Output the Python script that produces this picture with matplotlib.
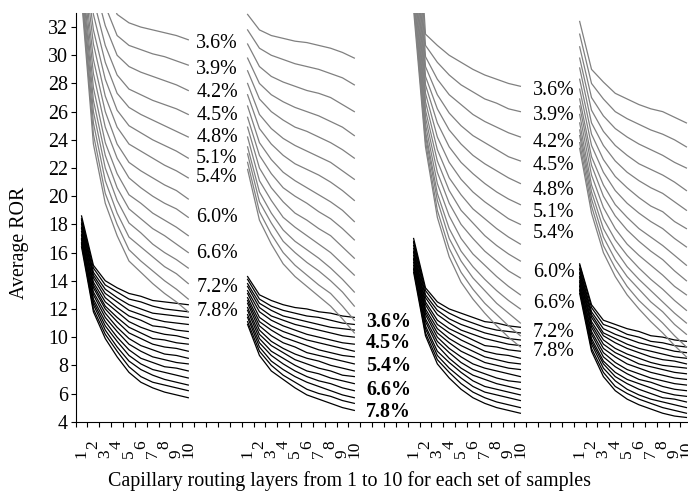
import matplotlib.pyplot as plt

plt.rcParams['font.family'] = ['Liberation Serif', 'DejaVu Serif']
plt.rcParams['font.size'] = 14.4

# capillary routing layers, 4 sets of samples, each on 10 categories + 4 empty ones
layers = list(range(1, 11))
group_starts = [0, 14, 28, 42]
n_categories = 52

# grey series (upper bundle), one row per loss rate 3.6% .. 7.8%
gray_1 = [
    [42.0, 38.0, 35.0, 32.9, 32.3, 32.0, 31.8, 31.6, 31.4, 31.1],
    [41.2, 36.7, 33.5, 31.4, 30.7, 30.4, 30.1, 29.9, 29.6, 29.3],
    [40.5, 35.3, 32.1, 30.0, 29.2, 28.8, 28.5, 28.2, 27.9, 27.5],
    [39.8, 34.0, 30.7, 28.6, 27.6, 27.2, 26.8, 26.5, 26.2, 25.8],
    [39.1, 32.9, 29.5, 27.3, 26.3, 25.8, 25.4, 25.0, 24.6, 24.2],
    [38.5, 31.8, 28.3, 26.1, 25.0, 24.5, 24.0, 23.6, 23.2, 22.7],
    [37.9, 30.8, 27.1, 24.9, 23.7, 23.2, 22.7, 22.2, 21.8, 21.3],
    [37.3, 29.7, 26.0, 23.7, 22.4, 21.8, 21.3, 20.8, 20.4, 19.8],
    [36.8, 28.7, 24.9, 22.7, 21.3, 20.6, 20.0, 19.5, 19.1, 18.5],
    [36.2, 27.7, 23.8, 21.6, 20.1, 19.5, 18.8, 18.3, 17.8, 17.2],
    [35.8, 26.8, 22.9, 20.6, 19.1, 18.4, 17.7, 17.2, 16.6, 16.0],
    [35.3, 26.0, 22.0, 19.7, 18.1, 17.4, 16.6, 16.0, 15.5, 14.9],
    [34.8, 25.2, 21.1, 18.8, 17.1, 16.4, 15.7, 15.0, 14.5, 13.8],
    [34.4, 24.4, 20.2, 18.0, 16.2, 15.4, 14.7, 14.0, 13.4, 12.7],
    [34.0, 23.7, 19.5, 17.2, 15.4, 14.6, 13.8, 13.1, 12.5, 11.8],
]
gray_2 = [
    [32.9, 31.8, 31.4, 31.2, 31.0, 30.9, 30.7, 30.5, 30.2, 29.8],
    [31.8, 30.5, 30.0, 29.7, 29.4, 29.2, 29.0, 28.7, 28.4, 27.9],
    [30.8, 29.2, 28.5, 28.1, 27.8, 27.5, 27.3, 27.0, 26.5, 26.0],
    [29.8, 28.0, 27.2, 26.7, 26.3, 26.0, 25.7, 25.3, 24.9, 24.3],
    [28.9, 26.9, 26.0, 25.4, 24.9, 24.6, 24.2, 23.8, 23.3, 22.7],
    [28.0, 25.8, 24.8, 24.1, 23.6, 23.2, 22.8, 22.4, 21.8, 21.2],
    [27.2, 24.8, 23.7, 22.9, 22.3, 21.9, 21.5, 21.0, 20.4, 19.7],
    [26.4, 23.8, 22.6, 21.7, 21.1, 20.6, 20.1, 19.6, 19.0, 18.2],
    [25.6, 22.9, 21.6, 20.6, 20.0, 19.5, 18.9, 18.4, 17.7, 16.9],
    [24.9, 22.0, 20.6, 19.6, 18.8, 18.3, 17.7, 17.2, 16.4, 15.6],
    [24.2, 21.1, 19.7, 18.5, 17.8, 17.2, 16.6, 16.0, 15.2, 14.4],
    [23.5, 20.3, 18.8, 17.6, 16.8, 16.2, 15.6, 14.9, 14.1, 13.2],
    [23.0, 19.6, 18.1, 16.8, 16.0, 15.3, 14.7, 14.0, 13.2, 12.2],
    [22.4, 18.9, 17.3, 16.0, 15.1, 14.4, 13.7, 13.1, 12.2, 11.2],
    [21.9, 18.3, 16.6, 15.2, 14.3, 13.6, 12.9, 12.2, 11.3, 10.3],
]
gray_3 = [
    [45.0, 31.5, 30.7, 30.0, 29.5, 29.0, 28.6, 28.3, 28.0, 27.8],
    [43.8, 30.7, 29.5, 28.6, 27.9, 27.4, 26.9, 26.6, 26.2, 26.0],
    [42.7, 29.9, 28.3, 27.2, 26.5, 25.8, 25.3, 24.9, 24.5, 24.2],
    [41.6, 29.2, 27.2, 25.9, 25.0, 24.3, 23.8, 23.3, 22.8, 22.5],
    [40.6, 28.5, 26.2, 24.7, 23.7, 22.9, 22.3, 21.8, 21.3, 20.9],
    [39.6, 27.9, 25.2, 23.5, 22.4, 21.6, 20.9, 20.3, 19.8, 19.4],
    [38.7, 27.3, 24.2, 22.4, 21.2, 20.3, 19.6, 19.0, 18.4, 18.0],
    [37.9, 26.7, 23.3, 21.3, 20.1, 19.1, 18.4, 17.7, 17.1, 16.6],
    [37.1, 26.1, 22.5, 20.4, 19.0, 18.1, 17.2, 16.5, 15.9, 15.4],
    [36.3, 25.6, 21.7, 19.5, 18.0, 17.0, 16.1, 15.4, 14.7, 14.2],
    [35.6, 25.1, 20.9, 18.6, 17.0, 15.9, 15.1, 14.3, 13.6, 13.0],
    [34.9, 24.6, 20.2, 17.7, 16.1, 15.0, 14.1, 13.3, 12.6, 12.0],
    [34.3, 24.3, 19.7, 17.0, 15.4, 14.2, 13.3, 12.4, 11.7, 11.0],
    [33.7, 23.9, 19.0, 16.3, 14.6, 13.4, 12.4, 11.6, 10.8, 10.1],
    [33.2, 23.5, 18.5, 15.7, 13.9, 12.7, 11.7, 10.8, 10.0, 9.3],
]
gray_4 = [
    [32.4, 29.0, 28.1, 27.3, 26.9, 26.5, 26.2, 26.0, 25.6, 25.2],
    [31.5, 28.0, 26.9, 26.0, 25.5, 25.1, 24.7, 24.4, 24.0, 23.5],
    [30.6, 27.0, 25.7, 24.8, 24.2, 23.7, 23.3, 22.9, 22.4, 22.0],
    [29.8, 26.1, 24.6, 23.6, 22.9, 22.3, 21.9, 21.5, 21.0, 20.4],
    [29.1, 25.2, 23.6, 22.5, 21.7, 21.1, 20.6, 20.2, 19.6, 19.0],
    [28.3, 24.4, 22.6, 21.4, 20.6, 19.9, 19.3, 18.9, 18.2, 17.7],
    [27.6, 23.6, 21.7, 20.4, 19.5, 18.8, 18.2, 17.7, 17.0, 16.4],
    [26.9, 22.8, 20.8, 19.4, 18.5, 17.7, 17.1, 16.5, 15.8, 15.1],
    [26.4, 22.2, 20.0, 18.6, 17.6, 16.8, 16.1, 15.5, 14.7, 14.0],
    [25.8, 21.5, 19.2, 17.7, 16.6, 15.8, 15.1, 14.4, 13.6, 13.0],
    [25.2, 20.8, 18.4, 16.9, 15.8, 14.9, 14.1, 13.4, 12.6, 11.9],
    [24.7, 20.3, 17.7, 16.2, 15.0, 14.1, 13.3, 12.5, 11.7, 11.0],
    [24.3, 19.8, 17.1, 15.5, 14.3, 13.4, 12.5, 11.8, 10.9, 10.2],
    [23.8, 19.3, 16.5, 14.9, 13.6, 12.6, 11.8, 11.0, 10.1, 9.3],
    [23.4, 18.8, 16.0, 14.3, 13.0, 12.0, 11.1, 10.3, 9.4, 8.6],
]

# black series (lower bundle)
black_1 = [
    [18.6, 15.1, 14.0, 13.5, 13.1, 12.9, 12.6, 12.5, 12.4, 12.3],
    [18.4, 14.9, 13.7, 13.2, 12.7, 12.5, 12.2, 12.0, 11.9, 11.8],
    [18.3, 14.6, 13.4, 12.8, 12.3, 12.0, 11.7, 11.6, 11.5, 11.4],
    [18.1, 14.4, 13.1, 12.5, 11.9, 11.6, 11.3, 11.1, 11.0, 10.9],
    [18.0, 14.2, 12.8, 12.1, 11.5, 11.2, 10.8, 10.7, 10.5, 10.4],
    [17.8, 13.9, 12.5, 11.8, 11.1, 10.7, 10.4, 10.2, 10.1, 9.9],
    [17.7, 13.7, 12.2, 11.4, 10.7, 10.3, 9.9, 9.8, 9.6, 9.5],
    [17.5, 13.5, 12.0, 11.1, 10.3, 9.9, 9.5, 9.3, 9.2, 9.0],
    [17.3, 13.2, 11.7, 10.7, 9.9, 9.4, 9.1, 8.8, 8.7, 8.5],
    [17.2, 13.0, 11.4, 10.4, 9.5, 9.0, 8.6, 8.4, 8.2, 8.1],
    [17.0, 12.7, 11.1, 10.0, 9.1, 8.5, 8.2, 7.9, 7.8, 7.6],
    [16.9, 12.5, 10.8, 9.7, 8.7, 8.1, 7.7, 7.5, 7.3, 7.1],
    [16.7, 12.3, 10.5, 9.3, 8.3, 7.7, 7.3, 7.0, 6.8, 6.6],
    [16.6, 12.0, 10.2, 9.0, 7.9, 7.2, 6.8, 6.6, 6.4, 6.2],
    [16.4, 11.8, 9.9, 8.6, 7.5, 6.8, 6.4, 6.1, 5.9, 5.7],
]
black_2 = [
    [14.3, 13.0, 12.6, 12.3, 12.1, 12.0, 11.8, 11.7, 11.5, 11.4],
    [14.1, 12.7, 12.2, 11.9, 11.7, 11.5, 11.4, 11.2, 11.0, 10.9],
    [13.8, 12.4, 11.9, 11.5, 11.3, 11.1, 10.9, 10.7, 10.6, 10.5],
    [13.6, 12.1, 11.5, 11.2, 10.9, 10.7, 10.5, 10.3, 10.1, 10.0],
    [13.3, 11.8, 11.2, 10.8, 10.5, 10.2, 10.0, 9.8, 9.6, 9.5],
    [13.1, 11.4, 10.8, 10.4, 10.1, 9.8, 9.6, 9.4, 9.2, 9.0],
    [12.8, 11.1, 10.5, 10.0, 9.7, 9.4, 9.1, 8.9, 8.7, 8.6],
    [12.6, 10.8, 10.1, 9.6, 9.3, 8.9, 8.7, 8.5, 8.3, 8.1],
    [12.4, 10.5, 9.7, 9.2, 8.8, 8.5, 8.3, 8.0, 7.8, 7.6],
    [12.1, 10.2, 9.4, 8.9, 8.4, 8.1, 7.8, 7.6, 7.3, 7.2],
    [11.9, 9.9, 9.0, 8.5, 8.0, 7.6, 7.4, 7.1, 6.9, 6.7],
    [11.6, 9.6, 8.7, 8.1, 7.6, 7.2, 6.9, 6.7, 6.4, 6.2],
    [11.4, 9.3, 8.3, 7.7, 7.2, 6.8, 6.5, 6.2, 5.9, 5.7],
    [11.1, 9.0, 8.0, 7.3, 6.8, 6.3, 6.0, 5.8, 5.5, 5.3],
    [10.9, 8.7, 7.6, 7.0, 6.4, 5.9, 5.6, 5.3, 5.0, 4.8],
]
black_3 = [
    [17.0, 13.5, 12.5, 12.0, 11.7, 11.4, 11.1, 11.0, 10.8, 10.7],
    [16.8, 13.3, 12.2, 11.7, 11.3, 11.0, 10.7, 10.5, 10.4, 10.3],
    [16.7, 13.0, 11.9, 11.3, 10.9, 10.6, 10.3, 10.1, 9.9, 9.8],
    [16.5, 12.8, 11.6, 11.0, 10.5, 10.2, 9.9, 9.7, 9.5, 9.4],
    [16.3, 12.5, 11.2, 10.6, 10.2, 9.8, 9.4, 9.3, 9.1, 9.0],
    [16.1, 12.3, 10.9, 10.3, 9.8, 9.4, 9.0, 8.8, 8.7, 8.5],
    [16.0, 12.0, 10.6, 9.9, 9.4, 9.0, 8.6, 8.4, 8.2, 8.1],
    [15.8, 11.8, 10.3, 9.6, 9.0, 8.6, 8.2, 8.0, 7.8, 7.7],
    [15.6, 11.6, 10.0, 9.2, 8.6, 8.1, 7.8, 7.6, 7.4, 7.2],
    [15.5, 11.3, 9.7, 8.9, 8.2, 7.7, 7.4, 7.1, 6.9, 6.8],
    [15.3, 11.1, 9.4, 8.5, 7.8, 7.3, 7.0, 6.7, 6.5, 6.3],
    [15.1, 10.8, 9.0, 8.2, 7.5, 6.9, 6.5, 6.3, 6.1, 5.9],
    [14.9, 10.6, 8.7, 7.8, 7.1, 6.5, 6.1, 5.9, 5.7, 5.5],
    [14.8, 10.3, 8.4, 7.5, 6.7, 6.1, 5.7, 5.4, 5.2, 5.0],
    [14.6, 10.1, 8.1, 7.1, 6.3, 5.7, 5.3, 5.0, 4.8, 4.6],
]
black_4 = [
    [15.2, 12.3, 11.2, 10.9, 10.6, 10.4, 10.1, 10.0, 9.8, 9.7],
    [15.1, 12.1, 10.9, 10.6, 10.2, 10.0, 9.7, 9.6, 9.4, 9.3],
    [14.9, 11.8, 10.6, 10.2, 9.9, 9.6, 9.4, 9.2, 9.0, 8.9],
    [14.8, 11.6, 10.3, 9.9, 9.5, 9.2, 9.0, 8.8, 8.6, 8.5],
    [14.6, 11.4, 10.1, 9.6, 9.2, 8.9, 8.6, 8.4, 8.3, 8.1],
    [14.5, 11.1, 9.8, 9.2, 8.8, 8.5, 8.2, 8.0, 7.9, 7.8],
    [14.3, 10.9, 9.5, 8.9, 8.5, 8.1, 7.9, 7.7, 7.5, 7.4],
    [14.2, 10.7, 9.2, 8.6, 8.1, 7.8, 7.5, 7.3, 7.1, 7.0],
    [14.0, 10.4, 8.9, 8.2, 7.7, 7.4, 7.1, 6.9, 6.7, 6.6],
    [13.9, 10.2, 8.6, 7.9, 7.4, 7.0, 6.8, 6.5, 6.3, 6.2],
    [13.7, 9.9, 8.3, 7.5, 7.0, 6.7, 6.4, 6.1, 5.9, 5.8],
    [13.6, 9.7, 8.1, 7.2, 6.7, 6.3, 6.0, 5.7, 5.6, 5.4],
    [13.4, 9.5, 7.8, 6.9, 6.3, 5.9, 5.6, 5.4, 5.2, 5.0],
    [13.3, 9.2, 7.5, 6.5, 6.0, 5.6, 5.3, 5.0, 4.8, 4.6],
    [13.1, 9.0, 7.2, 6.2, 5.6, 5.2, 4.9, 4.6, 4.4, 4.3],
]

gray_labels = ['3.6%', '3.9%', '4.2%', '4.5%', '4.8%', '5.1%', '5.4%',
               '6.0%', '6.6%', '7.2%', '7.8%']
left_label_y = [30.8, 29.0, 27.35, 25.7, 24.2, 22.65, 21.3, 18.5, 15.9, 13.5, 11.85]
right_label_y = [27.5, 25.7, 23.8, 22.15, 20.4, 18.85, 17.35, 14.6, 12.4, 10.35, 8.95]
bold_labels = ['3.6%', '4.5%', '5.4%', '6.6%', '7.8%']
bold_label_y = [11.1, 9.55, 7.95, 6.25, 4.7]

fig = plt.figure(figsize=(6.88, 4.92), dpi=100)
ax = fig.add_axes([0.1099, 0.1429, 0.8964, 0.8307])

grays = [gray_1, gray_2, gray_3, gray_4]
blacks = [black_1, black_2, black_3, black_4]
for start, gray, black in zip(group_starts, grays, blacks):
    xs = [start + layer - 1 for layer in layers]
    for series in black:
        ax.plot(xs, series, color='black', lw=0.9)
    for series in gray:
        ax.plot(xs, series, color='#808080', lw=0.9)

for txt, y in zip(gray_labels, left_label_y):
    ax.text(9.67, y, txt, ha='left', va='center')
for txt, y in zip(gray_labels, right_label_y):
    ax.text(38.05, y, txt, ha='left', va='center')
for txt, y in zip(bold_labels, bold_label_y):
    ax.text(24.0, y, txt, ha='left', va='center', fontweight='bold')

ax.set_xlim(-0.5, n_categories - 0.5)
ax.set_ylim(4, 33)
ax.set_yticks(range(4, 33, 2))

# tick marks between categories, labels on the categories (staggered like the original)
ax.set_xticks([c - 0.5 for c in range(n_categories + 1)])
ax.set_xticklabels([])
centers = list(range(n_categories))
cat_labels = [str(c % 14 + 1) if c % 14 < 10 else '' for c in centers]
ax.set_xticks(centers, minor=True)
ax.set_xticklabels(cat_labels, minor=True, rotation=90, fontsize=12.5)
ax.tick_params(axis='x', which='minor', length=0)
for c, tick in zip(centers, ax.xaxis.get_minor_ticks()):
    layer = c % 14 + 1
    tick.set_pad(13.5 if layer % 2 == 0 else 19.8)
ax.tick_params(axis='both', which='major', direction='out', length=3.6, width=0.8)
ax.tick_params(axis='y', pad=2)

for side in ['top', 'right']:
    ax.spines[side].set_visible(False)
ax.spines['left'].set_linewidth(0.8)
ax.spines['bottom'].set_linewidth(0.8)

ax.set_ylabel('Average ROR')
ax.yaxis.set_label_coords(-0.076, 0.437)
ax.set_xlabel('Capillary routing layers from 1 to 10 for each set of samples')
ax.xaxis.set_label_coords(0.4433, -0.122)

fig.savefig('out.png', dpi=100)
